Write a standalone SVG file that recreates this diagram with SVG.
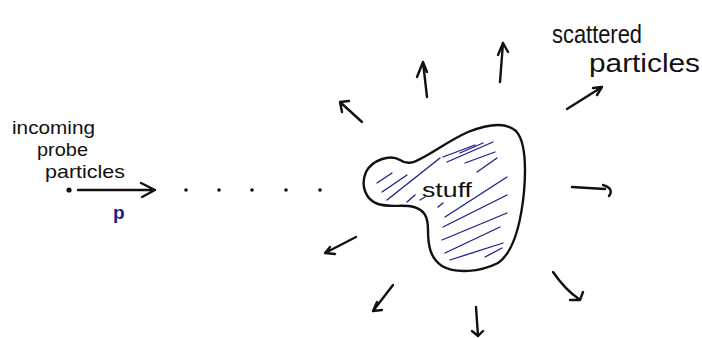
<svg xmlns="http://www.w3.org/2000/svg" width="702" height="338" viewBox="0 0 702 338">
<style>
.ink{fill:none;stroke:#111;stroke-width:2.4;stroke-linecap:round;stroke-linejoin:round}
.hatch{fill:none;stroke:#1c1c8a;stroke-width:1.3;stroke-linecap:round}
.t{font-family:"Liberation Sans","DejaVu Sans",sans-serif;fill:#111}
</style>
<rect width="702" height="338" fill="#fff"/>
<g id="probe">
<text class="t" font-size="19" x="12" y="134" textLength="83" lengthAdjust="spacingAndGlyphs">incoming</text>
<text class="t" font-size="19" x="37" y="156" textLength="51" lengthAdjust="spacingAndGlyphs">probe</text>
<text class="t" font-size="19" x="45" y="178" textLength="80" lengthAdjust="spacingAndGlyphs">particles</text>
<circle cx="69" cy="190" r="2.6" fill="#111"/>
<path class="ink" d="M78,190 L155,190 M141,183 L155,190 L142,197" stroke-width="2"/>
<text x="113" y="219" font-size="19" font-weight="bold" fill="#1c1c8a" font-family="'Liberation Sans',sans-serif">p</text>
<g fill="#111"><circle cx="186" cy="190" r="1.8"/><circle cx="219" cy="190" r="1.8"/><circle cx="252" cy="190" r="1.8"/><circle cx="286" cy="190" r="1.8"/><circle cx="320" cy="190" r="1.8"/></g>
</g>
<g id="stuff">
<path class="hatch" d="M377,183 L392,173 M382,192 L407,175 M387,200 L440,158 M407,202 L415,195 M420,200 L425,197 M438,207 L443,203 M443,157 L475,145 M447,162 L493,142 M460,153 L483,143 M465,163 L495,152 M477,172 L497,158 M445,217 L507,177 M443,227 L507,195 M442,240 L507,213 M445,253 L500,227 M450,260 L503,243 M485,257 L502,248"/>
<path class="ink" d="M400,160 C390,154 372,160 366,172 C360,186 366,200 378,204 C390,208 404,204 414,207 C424,210 428,216 428,230 C428,245 430,258 442,266 C456,274 480,272 498,263 C514,252 521,222 524,192 C526,168 526,142 516,131 C506,122 488,124 468,132 C450,140 434,152 422,158 C412,164 406,164 400,160 Z"/>
<text class="t" font-size="20" x="422" y="197" textLength="50" lengthAdjust="spacingAndGlyphs">stuff</text>
</g>
<g id="scattered">
<text class="t" font-size="26" x="552" y="43" textLength="90" lengthAdjust="spacingAndGlyphs">scattered</text>
<text class="t" font-size="26" x="589" y="72" textLength="111" lengthAdjust="spacingAndGlyphs">particles</text>
<path class="ink" d="M362,122 L340,102 M349,101 L340,102 L342,112"/>
<path class="ink" d="M427,97 L423,62 M417,77 L423,62 L427,72"/>
<path class="ink" d="M500,82 L503,43 M498,55 L503,43 L508,52"/>
<path class="ink" d="M567,109 L602,87 M593,88 L602,87 L597,95"/>
<path class="ink" d="M572,187 L605,189 M603,185 C612,188 612,192 609,196"/>
<path class="ink" d="M356,237 L325,253 M330,247 L325,253 L335,254"/>
<path class="ink" d="M393,285 L373,311 M377,302 L373,311 L382,310"/>
<path class="ink" d="M476,307 L478,336 M472,331 L478,336 L483,331"/>
<path class="ink" d="M553,272 C562,285 570,293 579,299 M570,300 L580,300 L583,292"/>
</g>
</svg>
